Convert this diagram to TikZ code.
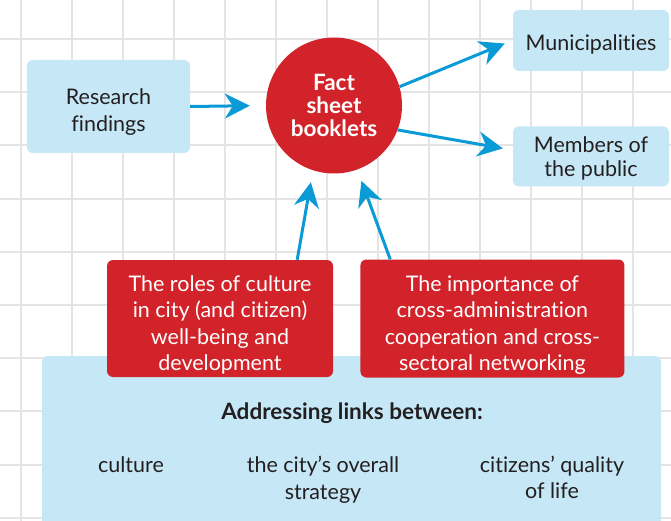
\documentclass[tikz,border=0pt]{standalone}
\usepackage{fontspec}
\setmainfont{Lato}[Ligatures=NoCommon]
\usetikzlibrary{arrows.meta,calc,positioning}
\definecolor{factred}{HTML}{D2232A}
\definecolor{paleblue}{HTML}{C6E8F6}
\definecolor{flowblue}{HTML}{0A9BD6}
\definecolor{gridgray}{HTML}{E4E4E4}
\definecolor{inkgray}{HTML}{231F20}
\tikzset{
  gridline/.style={draw=gridgray,line width=2pt},
  bluebox/.style={fill=paleblue,rounded corners=6pt,inner sep=0pt},
  redbox/.style={fill=factred,rounded corners=6pt,inner sep=0pt},
  inktext/.style={align=center,text=inkgray,inner sep=0pt,font=\fontsize{21.5}{26.5}\selectfont},
  whitetext/.style={align=center,text=white,inner sep=0pt,font=\fontsize{21.5}{26.4}\selectfont},
  flow/.style={-{Stealth[length=25pt,width=25pt,inset=8pt]},draw=flowblue,line width=3pt},
}

\begin{document}
\begin{tikzpicture}[x=1pt,y=-1pt]
  \useasboundingbox (0,0) rectangle (671,521);
  \clip (0,0) rectangle (671,521);
  \foreach \x in {21,72,...,633} \draw[gridline] (\x,0) -- (\x,521);
  \foreach \i in {0,...,9} \draw[gridline] (0,39+53.2*\i) -- (671,39+53.2*\i);

  \node[bluebox,minimum width=619pt,minimum height=190pt] (links) at (351.5,451) {};
  \node[inktext,font=\fontsize{22.5}{26.5}\selectfont\bfseries] (head) at (352,413.5) {Addressing links between:};
  \node[inktext] (cult) at (131,464.5) {culture};
  \node[inktext] (strat) at (323,479.5) {the city’s overall\\strategy};
  \node[inktext] (life) at (552,477.5) {citizens’ quality\\of life};

  \node[redbox,minimum width=226pt,minimum height=117pt] (role) at (220,318.5) {};
  \node[redbox,minimum width=264pt,minimum height=118pt,right=27pt of role] (coop) {};
  \node[whitetext] (roletext) at ($(role)+(0,6.5)$) {The roles of culture\\in city (and citizen)\\well-being and\\development};
  \node[whitetext] (cooptext) at ($(coop)+(0,6.5)$) {The importance of\\cross-administration\\cooperation and cross-\\sectoral networking};

  \node[circle,fill=factred,minimum size=136pt,inner sep=0pt,align=center,text=white,font=\fontsize{22.5}{23}\selectfont\bfseries] (fsb) at (334,105.5) {Fact\\sheet\\booklets};
  \node[bluebox,minimum width=163pt,minimum height=93pt] (res) at (108.5,106.5) {};
  \node[inktext,font=\fontsize{21.5}{26.7}\selectfont] (restext) at ($(res)+(0,5.5)$) {Research\\findings};
  \node[bluebox,minimum width=156pt,minimum height=61pt] (muni) at (591,40.5) {};
  \node[inktext] (munitext) at ($(muni)+(0,3.5)$) {Municipalities};
  \node[bluebox,minimum width=156pt,minimum height=60pt,below=55pt of muni] (pub) {};
  \node[inktext,font=\fontsize{21.5}{23.3}\selectfont] (pubtext) at ($(pub)+(0,2)$) {Members of\\the public};

  \draw[flow,shorten >=16pt] (res.east) -- (fsb.west);
  \draw[flow] (fsb.16) -- ($(muni.west)+(-8,3)$);
  \draw[flow] (fsb.-21) -- ($(pub.west)+(-10,-8)$);
  \draw[flow,shorten >=12pt] ($(role.north east)+(-36,0)$) -- (fsb.-108);
  \draw[flow,shorten >=12pt] ($(coop.north west)+(30,0)$) -- (fsb.-70);
\end{tikzpicture}
\end{document}
